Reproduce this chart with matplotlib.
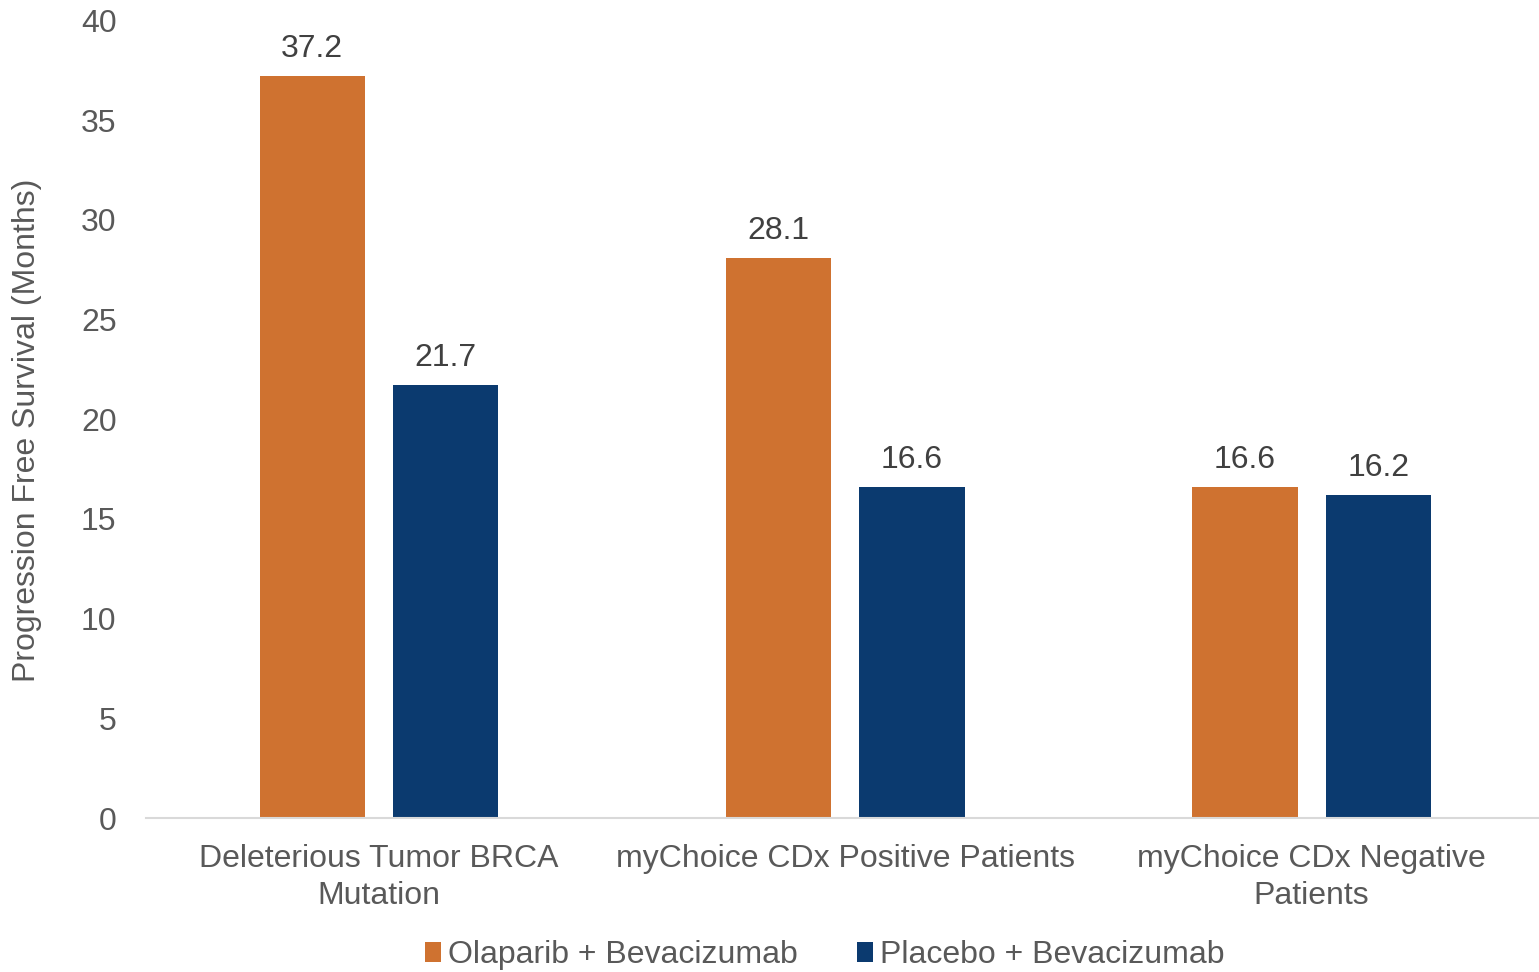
import matplotlib.pyplot as plt
import numpy as np

plt.rcParams['font.family'] = ['Liberation Sans', 'DejaVu Sans']

# Data
categories = ['Deleterious Tumor BRCA\nMutation',
              'myChoice CDx Positive Patients',
              'myChoice CDx Negative\nPatients']
olaparib = [37.2, 28.1, 16.6]
placebo = [21.7, 16.6, 16.2]
series_names = ['Olaparib + Bevacizumab', 'Placebo + Bevacizumab']
yticks = [0, 5, 10, 15, 20, 25, 30, 35, 40]

orange = '#CF7230'
navy = '#0B3A6F'
gray = '#595959'
fs = 23

fig = plt.figure(figsize=(15.39, 9.72), dpi=100)
ax = fig.add_axes([0.0947, 0.1584, 0.909, 0.8206])

x = np.arange(len(categories))
w = 0.226
off = 0.143
b1 = ax.bar(x - off, olaparib, w, color=orange, label=series_names[0])
b2 = ax.bar(x + off, placebo, w, color=navy, label=series_names[1])

for bars, vals in ((b1, olaparib), (b2, placebo)):
    for b, v in zip(bars, vals):
        ax.text(b.get_x() + b.get_width() / 2, v + 0.6, f'{v:.1f}',
                ha='center', va='bottom', fontsize=fs, color='#404040')

ax.set_xlim(-0.5, 2.5)
ax.set_ylim(0, 40)
ax.set_yticks(yticks)
ax.set_xticks(x)
ax.set_xticklabels(categories, fontsize=fs, color=gray, linespacing=1.3)
ax.tick_params(axis='y', labelsize=fs, labelcolor=gray, length=0, pad=21)
ax.tick_params(axis='x', length=0, pad=19)

for s in ('top', 'right', 'left'):
    ax.spines[s].set_visible(False)
ax.spines['bottom'].set_color('#D9D9D9')
ax.spines['bottom'].set_linewidth(1.5)

ax.set_ylabel('Progression Free Survival (Months)', fontsize=fs, color=gray)
ax.yaxis.set_label_coords(-0.074, 0.486)

leg = fig.legend(loc='center', bbox_to_anchor=(0.536, 0.017), ncol=2,
                 frameon=False, fontsize=fs, handlelength=0.5,
                 handleheight=0.6, handletextpad=0.22, columnspacing=1.85)
for t in leg.get_texts():
    t.set_color(gray)

fig.savefig('out.png', dpi=100)
